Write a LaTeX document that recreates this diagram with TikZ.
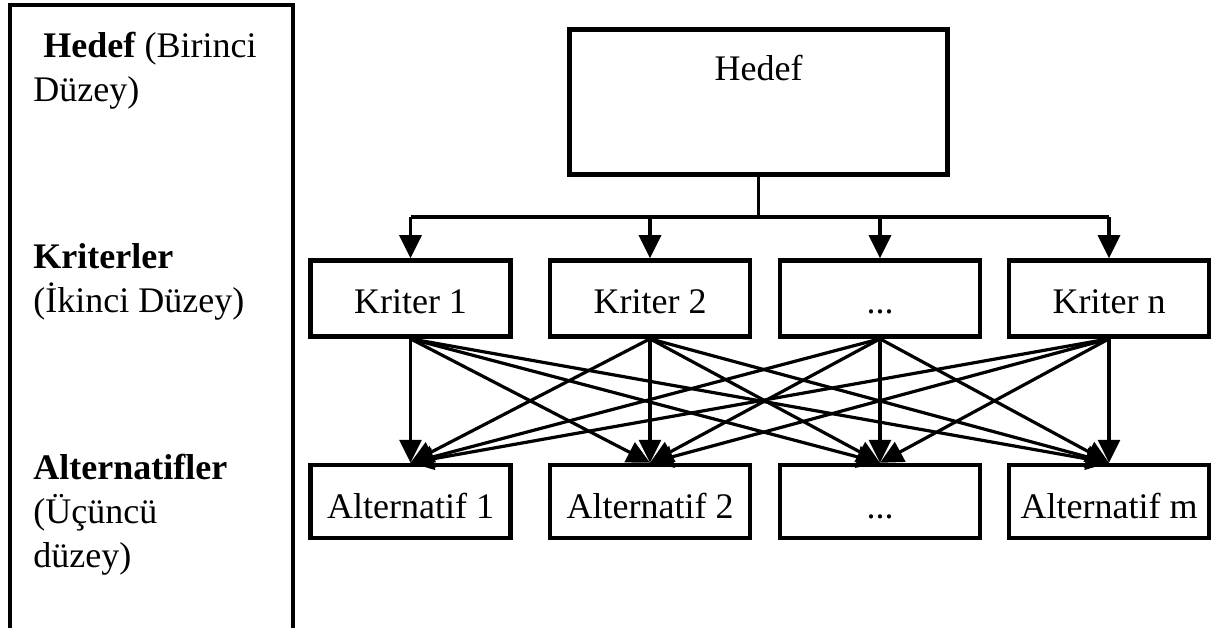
\documentclass[tikz,border=0pt]{standalone}
\usepackage{fontspec}
\setmainfont{Liberation Serif}
\usetikzlibrary{positioning, arrows.meta}
\tikzset{
  lvlbox/.style={draw, line width=2.3pt, minimum width=100pt, inner sep=0pt},
  kbox/.style={lvlbox, minimum height=38pt, text height=16pt, text depth=1.5pt},
  abox/.style={lvlbox, minimum height=36.5pt, text height=18pt, text depth=1.5pt},
  lvltext/.style={anchor=base west, align=left, inner sep=0pt},
  arr/.style={-{Triangle[length=11.5pt,width=11pt]}, line width=1.6pt},
}
\begin{document}
\begin{tikzpicture}[x=0.5pt, y=-0.5pt, font=\fontsize{18}{22}\selectfont]
\useasboundingbox (0,0) rectangle (1213,628);
% left column (base = last line)
\draw[line width=2.3pt] (10,628)--(10,5)--(293,5)--(293,628);
\node[lvltext] (lvl1) at (33,101) {\hspace*{5pt}\textbf{Hedef} (Birinci\\Düzey)};
\node[lvltext] (lvl2) at (33,312) {\textbf{Kriterler}\\(İkinci Düzey)};
\node[lvltext] (lvl3) at (33,567) {\textbf{Alternatifler}\\(Üçüncü\\düzey)};

% goal
\node[lvlbox, minimum width=189pt, minimum height=72.5pt,
  label={[anchor=base, yshift=-26.5pt]north:Hedef}] (hedef) at (758.5,102) {};
\coordinate (split) at (760,217);

% criteria
\node[kbox] (k1) at (410.5,298.5) {Kriter 1};
\node[kbox] (k2) at (650,298.5) {Kriter 2};
\node[kbox] (k3) at (880,298.5) {...};
\node[kbox] (k4) at (1109,298.5) {Kriter n};

% alternatives
\node[abox, below=62pt of k1] (a1) {Alternatif 1};
\node[abox, below=62pt of k2] (a2) {Alternatif 2};
\node[abox, below=62pt of k3] (a3) {...};
\node[abox, below=62pt of k4] (a4) {Alternatif m};

\draw[line width=1.6pt] (hedef.south) -- (hedef.south |- split);
\draw[line width=1.6pt] (k1.north |- split) -- (k4.north |- split);
\foreach \i in {1,...,4}
  \draw[arr] (k\i.north |- split) -- (k\i.north);
\foreach \i in {1,...,4}
  \foreach \j in {1,...,4}
    \draw[arr] (k\i.south) -- (a\j.north);
\end{tikzpicture}
\end{document}
